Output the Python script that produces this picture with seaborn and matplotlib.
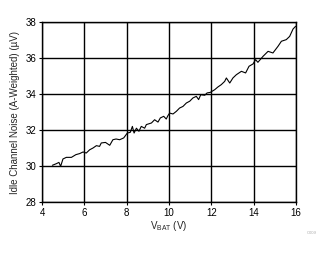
import numpy as np
import pandas as pd
import matplotlib
matplotlib.use("Agg")
import matplotlib.pyplot as plt
import seaborn as sns

vbat = [4.49, 4.68, 4.80, 4.88, 4.99, 5.15, 5.39, 5.60, 5.78, 5.94, 6.09, 6.25, 6.41,
        6.57, 6.72, 6.80, 7.00, 7.20, 7.35, 7.50, 7.67, 7.86, 8.03, 8.17, 8.27, 8.35,
        8.46, 8.58, 8.69, 8.85, 8.93, 9.17, 9.32, 9.48, 9.59, 9.75, 9.87, 9.95, 10.03,
        10.19, 10.35, 10.50, 10.66, 10.82, 10.98, 11.13, 11.29, 11.40, 11.50, 11.69,
        11.80, 11.95, 12.16, 12.31, 12.47, 12.63, 12.71, 12.87, 13.02, 13.18, 13.42,
        13.62, 13.78, 13.97, 14.09, 14.20, 14.44, 14.68, 14.91, 15.15, 15.31, 15.54,
        15.70, 15.86, 15.98]
noise = [30.04, 30.13, 30.20, 29.98, 30.39, 30.48, 30.48, 30.63, 30.69, 30.78, 30.72,
         30.90, 31.00, 31.13, 31.09, 31.28, 31.31, 31.15, 31.46, 31.50, 31.46, 31.56,
         31.83, 31.87, 32.20, 31.83, 32.10, 31.93, 32.20, 32.10, 32.30, 32.39, 32.57,
         32.44, 32.67, 32.76, 32.61, 32.80, 32.94, 32.89, 33.04, 33.22, 33.31, 33.50,
         33.60, 33.78, 33.87, 33.69, 33.96, 33.93, 34.06, 34.09, 34.24, 34.39, 34.52,
         34.70, 34.89, 34.61, 34.89, 35.07, 35.26, 35.17, 35.54, 35.67, 35.91, 35.76,
         36.09, 36.37, 36.28, 36.65, 36.93, 37.02, 37.20, 37.61, 37.76]
xticks = [4, 6, 8, 10, 12, 14, 16]
yticks = [28, 30, 32, 34, 36, 38]

sns.set_theme(style="white")
plt.rcParams['font.family'] = ['Liberation Sans', 'DejaVu Sans']

fig = plt.figure(figsize=(3.29, 2.54), dpi=100)
ax = fig.add_axes([42/329, 1-202/254, 254/329, 180/254])

df = pd.DataFrame({"vbat": vbat, "noise": noise})
sns.lineplot(data=df, x="vbat", y="noise", ax=ax, color="black", linewidth=0.8)

ax.set_xlim(4, 16)
ax.set_ylim(28, 38)
ax.set_xticks(xticks)
ax.set_yticks(yticks)
ax.set_xticklabels([str(t) for t in xticks], fontsize=7, color="black")
ax.set_yticklabels([str(t) for t in yticks], fontsize=7, color="black")
ax.grid(True, color="black", linewidth=1.0)
ax.set_axisbelow(True)
for s in ax.spines.values():
    s.set_color("black")
    s.set_linewidth(1.0)
ax.tick_params(axis="both", length=2, width=0.8, color="black", pad=2, direction="out",
               bottom=True, left=True)
ax.set_xlabel("V$_{\\mathregular{BAT}}$ (V)", fontsize=7, labelpad=1)
ax.set_ylabel("Idle Channel Noise (A-Weighted) (µV)", fontsize=7, labelpad=4)
fig.text(312/329, 1-233/254, "C009", fontsize=3, color="#aaaaaa", ha="center", va="center")

fig.savefig("out.png", dpi=100)
